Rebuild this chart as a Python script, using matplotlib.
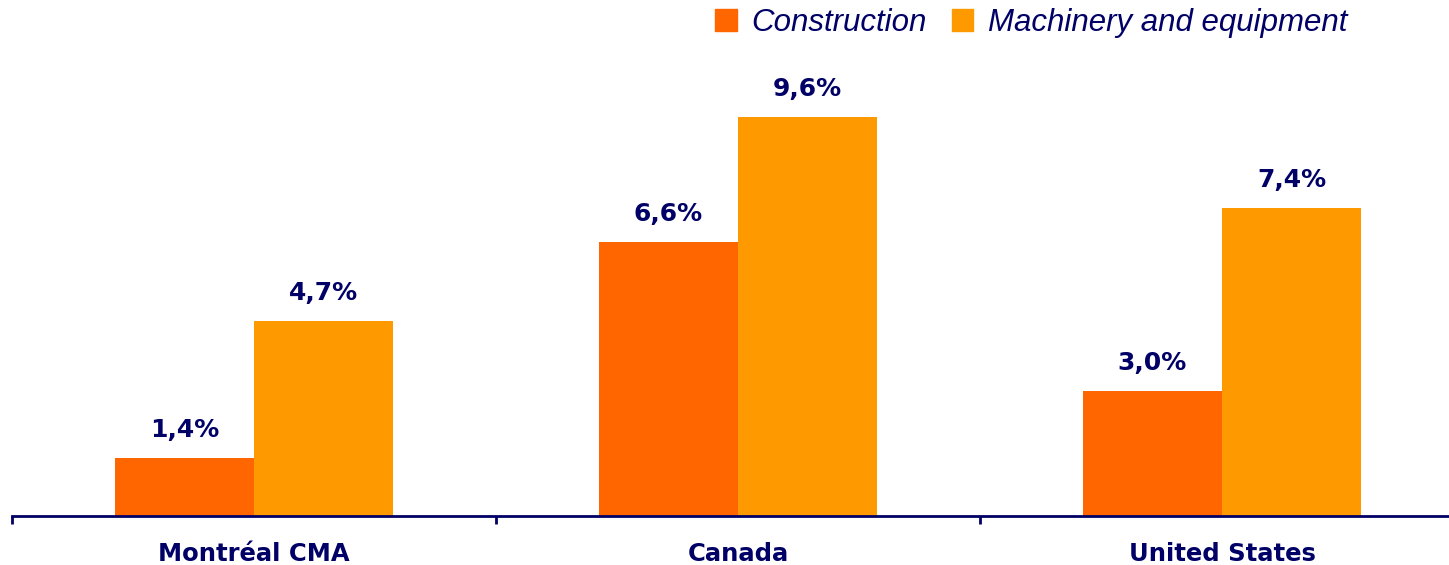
import matplotlib
matplotlib.use("Agg")
import matplotlib.pyplot as plt
from matplotlib.patches import Patch
import numpy as np

categories = ["Montréal CMA", "Canada", "United States"]
construction = [1.4, 6.6, 3.0]
machinery = [4.7, 9.6, 7.4]
series_names = ["Construction", "Machinery and equipment"]

navy = "#000066"
c1 = "#FF6600"
c2 = "#FF9900"

plt.rcParams['font.family'] = ['DejaVu Sans']

fig = plt.figure(figsize=(14.49, 5.65), dpi=100)
W, H = 1449, 565
ax = fig.add_axes([12 / W, (H - 516) / H, (1449 - 12) / W, (516 - 60) / H])

x = np.arange(len(categories))
bw = 0.288
b1 = ax.bar(x - bw / 2, construction, bw, color=c1, linewidth=0)
b2 = ax.bar(x + bw / 2, machinery, bw, color=c2, linewidth=0)

ax.set_ylim(0, 456 / 41.56)
ax.set_xlim(-0.5, (1449 - 12) / 484 - 0.5)

for bars, vals in ((b1, construction), (b2, machinery)):
    for r, v in zip(bars, vals):
        ax.annotate(f"{v:.1f}%".replace(".", ","),
                    (r.get_x() + r.get_width() / 2, r.get_height()),
                    xytext=(0, 11.5), textcoords="offset points",
                    ha="center", va="bottom", fontsize=18, fontweight="bold",
                    color=navy)

for s in ["top", "right", "left"]:
    ax.spines[s].set_visible(False)
ax.spines["bottom"].set_color(navy)
ax.spines["bottom"].set_linewidth(2)
ax.set_yticks([])

ax.set_xticks([-0.5, 0.5, 1.5])
ax.set_xticklabels([])
ax.tick_params(axis="x", direction="out", length=6, width=2, color=navy)
ax.set_xticks(x, minor=True)
ax.set_xticklabels(categories, minor=True, fontsize=17.5, fontweight="bold", color=navy)
ax.tick_params(axis="x", which="minor", length=0, pad=19)

handles = [Patch(color=c1), Patch(color=c2)]
fig.legend(handles, series_names, loc="upper right", bbox_to_anchor=(1375 / W, 1.0 + 20 / H),
           ncol=2, frameon=False, handlelength=0.7, handleheight=0.7,
           handletextpad=0.45, columnspacing=0.8,
           prop={"family": "Liberation Sans", "size": 22.5, "style": "italic"}, labelcolor=navy)

fig.savefig("out.png", dpi=100)
